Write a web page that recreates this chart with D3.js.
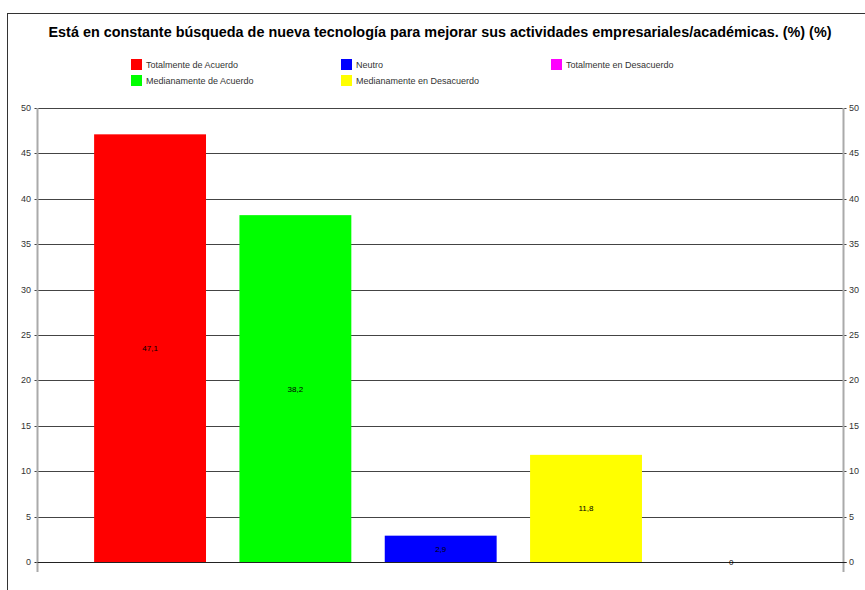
<!DOCTYPE html>
<html><head><meta charset="utf-8">
<script src="https://cdn.jsdelivr.net/npm/d3@7"></script>
<style>body{margin:0;background:#fff}svg{display:block}</style>
</head><body>
<svg id="c" width="865" height="590"></svg>
<script>
const title = "Está en constante búsqueda de nueva tecnología para mejorar sus actividades empresariales/académicas. (%) (%)";
const categories = ["Totalmente de Acuerdo","Medianamente de Acuerdo","Neutro","Medianamente en Desacuerdo","Totalmente en Desacuerdo"];
const values = [47.1, 38.2, 2.9, 11.8, 0];
const labels = ["47,1","38,2","2,9","11,8","0"];
const colors = ["#ff0000","#00ff00","#0000ff","#ffff00","#ff00ff"];
const ticks = [0,5,10,15,20,25,30,35,40,45,50];
const legendOrder = [0,2,4,1,3];

const svg = d3.select("#c");
const font = "'Liberation Sans', Arial, sans-serif";

// frame
svg.append("line").attr("x1",7.5).attr("x2",7.5).attr("y1",13).attr("y2",590).attr("stroke","#333").attr("stroke-width",1);
svg.append("line").attr("x1",7).attr("x2",865).attr("y1",13.5).attr("y2",13.5).attr("stroke","#333").attr("stroke-width",1);

svg.append("text").attr("x",440).attr("y",37).attr("text-anchor","middle")
  .attr("font-family",font).attr("font-weight","bold").attr("font-size",14.4).attr("fill","#000").text(title);

const y = d3.scaleLinear().domain([0,50]).range([562,108]);
const x = d3.scaleBand().domain(categories).range([77.4,804]).paddingInner(0.23).paddingOuter(0.115);
const xl = 37.5, xr = 843.5;

// gridlines
svg.append("g").selectAll("line").data(ticks).join("line")
  .attr("x1",xl-3).attr("x2",xr+3).attr("y1",d=>Math.round(y(d))+0.5).attr("y2",d=>Math.round(y(d))+0.5)
  .attr("stroke",d=>d===0?"#222":"#444").attr("stroke-width",1);

// axes lines
svg.append("line").attr("x1",xl).attr("x2",xl).attr("y1",108).attr("y2",572).attr("stroke","#aaa").attr("stroke-width",2);
svg.append("line").attr("x1",xr).attr("x2",xr).attr("y1",108).attr("y2",572).attr("stroke","#aaa").attr("stroke-width",2);

// tick labels
const tl = svg.append("g").attr("font-family",font).attr("font-size",9).attr("fill","#333");
tl.selectAll("text.l").data(ticks).join("text").attr("class","l")
  .attr("x",31).attr("y",d=>y(d)+3).attr("text-anchor","end").text(d=>d);
tl.selectAll("text.r").data(ticks).join("text").attr("class","r")
  .attr("x",849).attr("y",d=>y(d)+3).attr("text-anchor","start").text(d=>d);

// bars
svg.append("g").selectAll("rect").data(values).join("rect")
  .attr("x",(d,i)=>x(categories[i])).attr("width",x.bandwidth())
  .attr("y",d=>y(d)).attr("height",d=>y(0)-y(d))
  .attr("fill",(d,i)=>colors[i]);
// redraw zero line on top
svg.append("line").attr("x1",xl).attr("x2",xr+3).attr("y1",562.5).attr("y2",562.5).attr("stroke","#222");

// bar labels
svg.append("g").attr("font-family",font).attr("font-size",8).attr("fill","#000").attr("text-anchor","middle")
  .selectAll("text").data(values).join("text")
  .attr("x",(d,i)=>x(categories[i])+x.bandwidth()/2)
  .attr("y",d=>(y(d)+y(0))/2+3).text((d,i)=>labels[i]);

// legend
const lg = svg.append("g").attr("font-family",font).attr("font-size",9).attr("fill","#333");
const colX = [131,341,551], rowY = [59,75];
legendOrder.forEach((ci,k)=>{
  const col = k % 3, row = Math.floor(k/3);
  const g = lg.append("g").attr("transform",`translate(${colX[col]},${rowY[row]})`);
  g.append("rect").attr("width",11).attr("height",11).attr("fill",colors[ci]);
  g.append("text").attr("x",15).attr("y",9).text(categories[ci]);
});
</script>
</body></html>
